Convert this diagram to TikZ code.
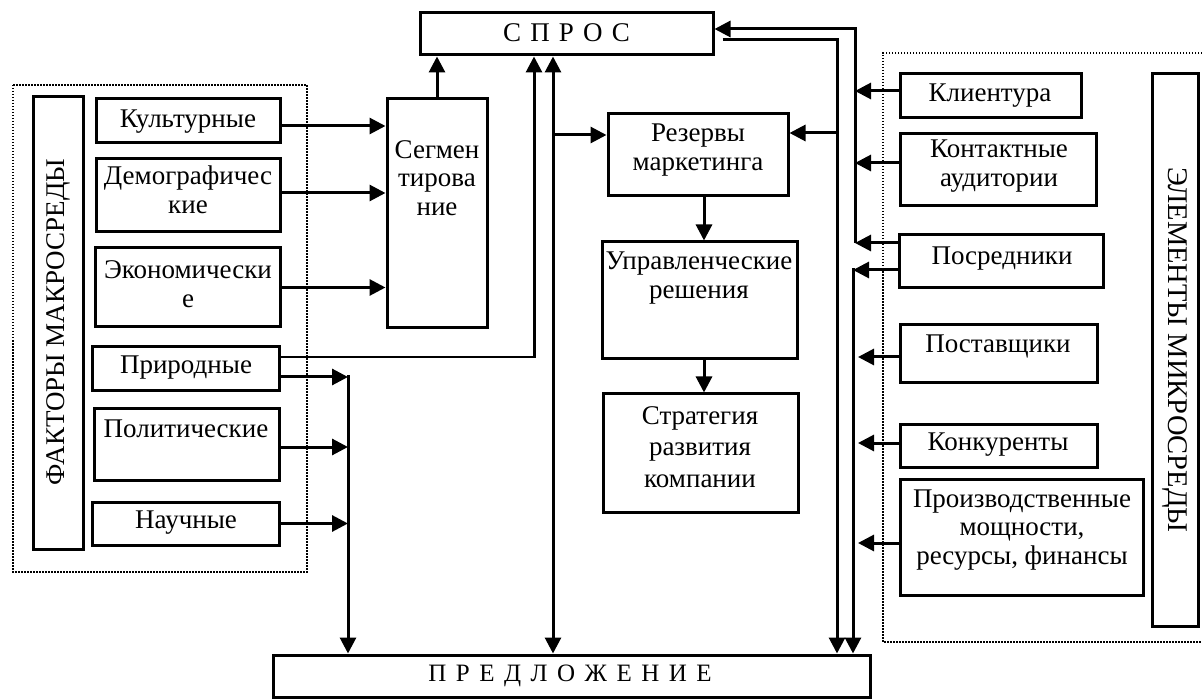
\documentclass[tikz,border=0pt]{standalone}
\usepackage{fontspec}
\setmainfont{Liberation Serif}
\usetikzlibrary{arrows.meta}
\newcommand\mkbox[5]{\node[box, minimum width={#4-#2}, minimum height={#5-#3}] (#1) at ({(#2+#4)/2},{(#3+#5)/2}) {};}
\newcommand\gp{\hspace{0.34em}}
\newcommand\gq{\hspace{0.38em}}
\begin{document}
\begin{tikzpicture}[x=1pt,y=-1pt,
  box/.style={draw, line width=3pt, inner sep=0pt, rectangle},
  txt/.style={inner sep=0pt, align=center, font=\fontsize{27}{28.5}\selectfont},
  arr/.style={line width=3pt, -{Triangle[length=16pt,width=16pt]}},
  darr/.style={line width=3pt, {Triangle[length=16pt,width=16pt]}-{Triangle[length=16pt,width=16pt]}},
  thinline/.style={line width=1.3pt},
  dotline/.style={line width=1.8pt, dash pattern=on 1.5pt off 1.5pt}]
\useasboundingbox (0,0) rectangle (1202,700);
% dotted groups
\draw[dotline] (13,85) rectangle (307,572);
\draw[dotline] (1202,53) -- (883,53) -- (883,642) -- (1202,642);
% boxes
\mkbox{spros}{420}{13}{713}{55}
\mkbox{pred}{273}{655}{870}{697}
\mkbox{fak}{33}{97}{83}{549}
\mkbox{kult}{96}{99}{280}{143}
\mkbox{demo}{96}{159}{280}{232}
\mkbox{econ}{95}{248}{280}{327}
\mkbox{prir}{92}{347}{279}{391}
\mkbox{pol}{94}{408}{279}{480}
\mkbox{nauch}{92}{502}{279}{545}
\mkbox{seg}{387}{99}{487}{328}
\mkbox{rez}{608}{114}{788}{196}
\mkbox{upr}{602}{242}{797}{359}
\mkbox{strat}{603}{394}{798}{512}
\mkbox{elem}{1152}{74}{1198}{626}
\mkbox{klient}{900}{74}{1081}{118}
\mkbox{kont}{900}{134}{1096}{206}
\mkbox{posr}{899}{235}{1103}{288}
\mkbox{post}{900}{325}{1097}{383}
\mkbox{konk}{900}{424}{1097}{467}
\mkbox{proizv}{900}{479}{1143}{595}
% texts
\node[txt] (t-spros) at (566.5,33) {С\gp П\gp Р\gp О\gp С};
\node[txt, font=\fontsize{25}{28}\selectfont] (t-pred) at (570,676) {П\gq Р\gq Е\gq Д\gq Л\gq О\gq Ж\gq Е\gq Н\gq И\gq Е};
\node[txt, rotate=90, font=\fontsize{27}{28}\selectfont] (t-fak) at (58,322) {ФАКТОРЫ МАКРОСРЕДЫ};
\node[txt, rotate=-90, font=\fontsize{28.5}{30}\selectfont] (t-elem) at (1175,350) {ЭЛЕМЕНТЫ МИКРОСРЕДЫ};
\node[txt] (t-kult) at (188,122) {Культурные};
\node[txt] (t-demo) at (188,190) {Демографичес\\кие};
\node[txt] (t-econ) at (188,284) {Экономически\\е};
\node[txt] (t-prir) at (186,368) {Природные};
\node[txt] (t-pol) at (186,429) {Политические};
\node[txt] (t-nauch) at (186,523) {Научные};
\node[txt] (t-seg) at (437,178) {Сегмен\\тирова\\ние};
\node[txt] (t-rez) at (698,150) {Резервы\\маркетинга};
\node[txt] (t-upr) at (699,278) {Управленческие\\решения};
\node[txt, font=\fontsize{27}{31.5}\selectfont] (t-strat) at (700,447) {Стратегия\\развития\\компании};
\node[txt] (t-klient) at (990,96) {Клиентура};
\node[txt] (t-kont) at (999,166) {Контактные\\аудитории};
\node[txt] (t-posr) at (1002,259) {Посредники};
\node[txt] (t-post) at (998,346) {Поставщики};
\node[txt] (t-konk) at (998,445) {Конкуренты};
\node[txt] (t-proizv) at (1022,530) {Производственные\\мощности,\\ресурсы, финансы};
% left factors -> segmentation
\draw[arr] ([yshift=-5pt]kult.east) -- ([yshift=-5pt]kult.east -| seg.west);
\draw[arr] ([yshift=2.5pt]demo.east) -- ([yshift=2.5pt]demo.east -| seg.west);
\draw[arr] (econ.east) -- (econ.east -| seg.west);
\draw[arr] (seg.north) -- (seg.north |- spros.south);
% natural factors thin line to demand
\coordinate (pj) at (534,357);
\draw[thinline] ([yshift=12pt]prir.east) -- (pj);
\draw[arr] ([yshift=-0.6pt]pj) -- (pj |- spros.south);
% left collector to supply
\coordinate (lj) at (348,377);
\draw[arr] ([yshift=-8pt]prir.east) -- (lj);
\draw[arr] ([yshift=1.5pt]lj) -- (lj |- pred.north);
\draw[arr] ([yshift=-3pt]pol.east) -- ([yshift=-3pt]pol.east -| lj);
\draw[arr] (nauch.east) -- (nauch.east -| lj);
% central double arrow
\coordinate (m1) at (553,135);
\draw[darr] (m1 |- spros.south) -- (m1 |- pred.north);
\draw[arr] (m1) -- (m1 -| rez.west);
% chain
\coordinate (m3) at (704,0);
\draw[arr] (m3 |- rez.south) -- (m3 |- upr.north);
\draw[arr] (m3 |- upr.south) -- (m3 |- strat.north);
% right side to demand
\coordinate (r1) at (855,29);
\coordinate (r2) at (855,243);
\draw[arr] (r2) -- (r1) -- (r1 -| spros.east);
\draw[arr] ([yshift=5pt]klient.west) -- ([yshift=5pt]klient.west -| r1);
\draw[arr] ([yshift=7pt]kont.west) -- ([yshift=7pt]kont.west -| r1);
\draw[arr] ([yshift=18.5pt]posr.west) -- (r2);
% right side to supply
\coordinate (r3) at (853,270);
\coordinate (r4) at (858,0);
\draw[arr] ([yshift=-8.5pt]posr.west) -- (r3);
\draw[arr] ([yshift=1.5pt]r3) -- (r3 |- pred.north);
\draw[arr] ([yshift=-3pt]post.west) -- ([yshift=-3pt]post.west -| r4);
\draw[arr] ([yshift=2.5pt]konk.west) -- ([yshift=2.5pt]konk.west -| r4);
\draw[arr] ([yshift=-6pt]proizv.west) -- ([yshift=-6pt]proizv.west -| r4);
% demand -> reserves and supply
\coordinate (q1) at (837,40);
\coordinate (q2) at (837,133);
\draw[arr] ([xshift=8pt]q1 -| spros.east) -- (q1) -- (q1 |- pred.north);
\draw[arr] (q2) -- (q2 -| rez.east);
\end{tikzpicture}
\end{document}
